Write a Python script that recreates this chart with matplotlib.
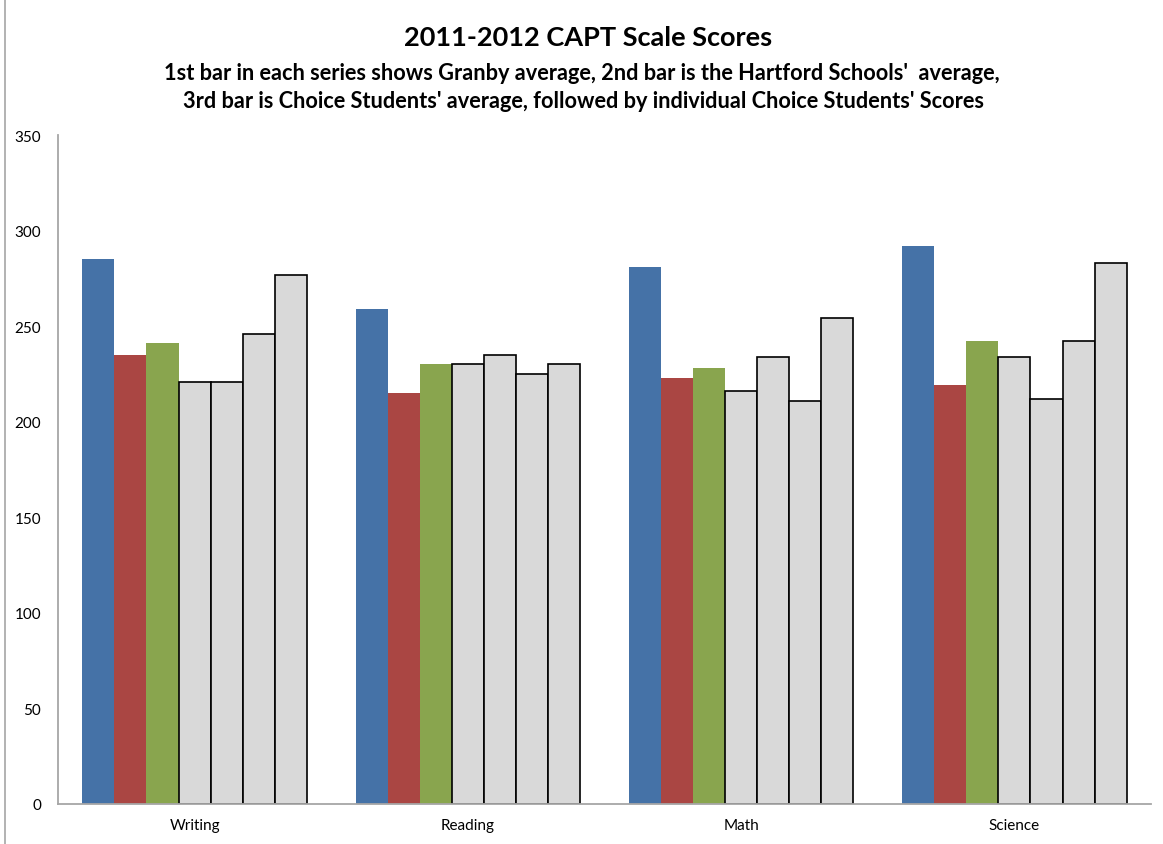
import numpy as np
import matplotlib
matplotlib.use("Agg")
import matplotlib.pyplot as plt
from matplotlib.patches import Rectangle

# valores
categorias = ["Writing", "Reading", "Math", "Science"]
granby = [285, 259, 281, 292]
hartford = [235, 215, 223, 219]
choice_media = [241, 230, 228, 242]
aluno1 = [221, 230, 216, 234]
aluno2 = [221, 235, 234, 212]
aluno3 = [246, 225, 211, 242]
aluno4 = [277, 230, 254, 283]

plt.rcParams['font.family'] = ['Lato', 'DejaVu Sans']

fig = plt.figure(figsize=(11.63, 8.45), dpi=100)
ax = fig.add_axes([58 / 1163, 40 / 845, 1093 / 1163, 669 / 845])

series = [
    (granby, "#4572A7", "none"),
    (hartford, "#AA4643", "none"),
    (choice_media, "#89A54E", "none"),
    (aluno1, "#D9D9D9", "black"),
    (aluno2, "#D9D9D9", "black"),
    (aluno3, "#D9D9D9", "black"),
    (aluno4, "#D9D9D9", "black"),
]

x = np.arange(len(categorias))
largura = 0.1175
n = len(series)
for i, (vals, cor, borda) in enumerate(series):
    pos = x + (i - (n - 1) / 2) * largura
    ax.bar(pos, vals, width=largura, color=cor, edgecolor=borda,
           linewidth=1.2 if borda != "none" else 0, zorder=2)

ax.set_xlim(-0.5, 3.5)
ax.set_ylim(0, 350)
ax.set_yticks(range(0, 351, 50))
ax.set_xticks(x)
ax.set_xticklabels(categorias, fontsize=11)
ax.tick_params(axis='y', labelsize=11, length=0, pad=12)
ax.tick_params(axis='x', length=0, pad=10)

for s in ["top", "right"]:
    ax.spines[s].set_visible(False)
ax.spines["left"].set_color("#a6a6a6")
ax.spines["bottom"].set_color("#a6a6a6")
ax.spines["left"].set_linewidth(1.3)
ax.spines["bottom"].set_linewidth(1.3)

fig.text(0.506, 1 - 38 / 845, "2011-2012 CAPT Scale Scores", ha="center", va="center",
         fontsize=19.5, fontweight="bold")
fig.text(0.500, 1 - 73 / 845,
         "1st bar in each series shows Granby average, 2nd bar is the Hartford Schools'  average,",
         ha="center", va="center", fontsize=15.7, fontweight="bold")
fig.text(0.502, 1 - 102 / 845,
         "3rd bar is Choice Students' average, followed by individual Choice Students' Scores",
         ha="center", va="center", fontsize=15.7, fontweight="bold")

# moldura do gráfico
fig.patches.append(Rectangle((5 / 1163, -0.01), 1.2, 1.2, transform=fig.transFigure,
                             fill=False, edgecolor="#a6a6a6", linewidth=1.2))

fig.savefig("out.png", dpi=100)
